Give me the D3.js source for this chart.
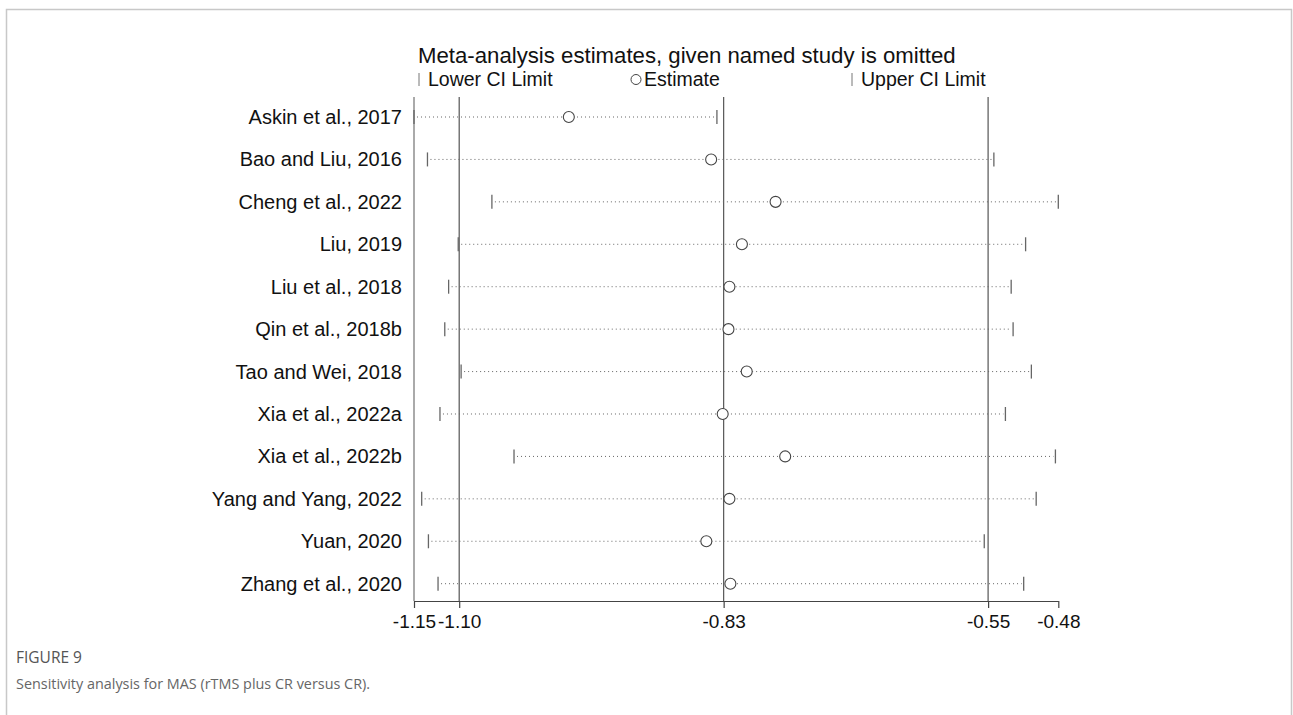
<!DOCTYPE html>
<html>
<head>
<meta charset="utf-8">
<script src="https://cdn.jsdelivr.net/npm/d3@7"></script>
<style>
  body { margin: 0; background: #fff; }
  svg { display: block; font-family: "Liberation Sans", Arial, sans-serif; }
</style>
</head>
<body>
<div id="chart"></div>
<script>
// studies omitted one at a time, top to bottom
const studies = [
  'Askin et al., 2017', 'Bao and Liu, 2016', 'Cheng et al., 2022', 'Liu, 2019',
  'Liu et al., 2018', 'Qin et al., 2018b', 'Tao and Wei, 2018', 'Xia et al., 2022a',
  'Xia et al., 2022b', 'Yang and Yang, 2022', 'Yuan, 2020', 'Zhang et al., 2020'
];
const lowerCI  = [-1.150, -1.136, -1.069, -1.104, -1.114, -1.118, -1.101, -1.123, -1.046, -1.142, -1.135, -1.125];
const estimate = [-0.989, -0.841, -0.774, -0.809, -0.822, -0.823, -0.804, -0.829, -0.764, -0.822, -0.846, -0.821];
const upperCI  = [-0.835, -0.547, -0.480, -0.514, -0.529, -0.527, -0.508, -0.535, -0.483, -0.503, -0.557, -0.516];

// pooled estimate and CI (reference lines) plus axis ends
const tickValues = [-1.150, -1.103, -0.828, -0.553, -0.480];
const tickLabels = ['-1.15', '-1.10', '-0.83', '-0.55', '-0.48'];
const refLines = [-1.103, -0.828, -0.553];

const width = 1293, height = 715;
const svg = d3.select('#chart').append('svg')
  .attr('width', width).attr('height', height);

// panel frame
svg.append('path')
  .attr('d', `M6.5,${height} V9.5 H1291.5 V${height}`)
  .attr('fill', 'none').attr('stroke', '#c8c8c8').attr('stroke-width', 1.5);

const x = d3.scaleLinear().domain([-1.15, -0.48]).range([414, 1058.3]);
const y = d3.scalePoint().domain(studies).range([117, 583.7]);
const plotTop = 97, axisY = 601;

// title + legend
svg.append('text').attr('x', 418).attr('y', 63)
  .attr('font-size', 22.2).attr('fill', '#111')
  .text('Meta-analysis estimates, given named study is omitted');

const legend = svg.append('g').attr('font-size', 19.5).attr('fill', '#111');
legend.append('line').attr('x1', 419).attr('x2', 419).attr('y1', 73).attr('y2', 86)
  .attr('stroke', '#777').attr('stroke-width', 1);
legend.append('text').attr('x', 428).attr('y', 86).text('Lower CI Limit');
legend.append('circle').attr('cx', 636).attr('cy', 79.5).attr('r', 5)
  .attr('fill', 'none').attr('stroke', '#444');
legend.append('text').attr('x', 644).attr('y', 86).text('Estimate');
legend.append('line').attr('x1', 852).attr('x2', 852).attr('y1', 73).attr('y2', 86)
  .attr('stroke', '#777').attr('stroke-width', 1);
legend.append('text').attr('x', 861).attr('y', 86).text('Upper CI Limit');

// reference lines
svg.append('g').selectAll('line').data(refLines).join('line')
  .attr('x1', d => x(d)).attr('x2', d => x(d))
  .attr('y1', plotTop).attr('y2', axisY)
  .attr('stroke', '#555').attr('stroke-width', 1.2);

// left axis line
svg.append('line').attr('x1', x(-1.15)).attr('x2', x(-1.15))
  .attr('y1', plotTop).attr('y2', axisY)
  .attr('stroke', '#aaa').attr('stroke-width', 2);

// study labels
svg.append('g').selectAll('text').data(studies).join('text')
  .attr('x', 402).attr('y', d => y(d) + 7)
  .attr('text-anchor', 'end').attr('font-size', 20).attr('fill', '#111')
  .text(d => d);

const rows = studies.map((s, i) => ({ s, lo: lowerCI[i], est: estimate[i], hi: upperCI[i] }));
const g = svg.append('g');

g.selectAll('line.ci').data(rows).join('line').attr('class', 'ci')
  .attr('x1', d => x(d.lo) + 3).attr('x2', d => x(d.hi) - 2)
  .attr('y1', d => y(d.s)).attr('y2', d => y(d.s))
  .attr('stroke', '#666').attr('stroke-width', 1).attr('stroke-dasharray', '1,3');

g.selectAll('line.lo').data(rows).join('line').attr('class', 'lo')
  .attr('x1', d => x(d.lo)).attr('x2', d => x(d.lo))
  .attr('y1', d => y(d.s) - 7).attr('y2', d => y(d.s) + 7)
  .attr('stroke', '#666').attr('stroke-width', 1.3);

g.selectAll('line.hi').data(rows).join('line').attr('class', 'hi')
  .attr('x1', d => x(d.hi)).attr('x2', d => x(d.hi))
  .attr('y1', d => y(d.s) - 7).attr('y2', d => y(d.s) + 7)
  .attr('stroke', '#666').attr('stroke-width', 1.3);

g.selectAll('circle').data(rows).join('circle')
  .attr('cx', d => x(d.est)).attr('cy', d => y(d.s)).attr('r', 5.5)
  .attr('fill', '#fff').attr('stroke', '#444').attr('stroke-width', 1.1);

// bottom axis
const xAxis = d3.axisBottom(x)
  .tickValues(tickValues)
  .tickFormat((d, i) => tickLabels[i])
  .tickSize(7).tickSizeOuter(0);
const ax = svg.append('g').attr('transform', `translate(0,${axisY})`).call(xAxis);
ax.select('.domain').attr('stroke', '#444').attr('stroke-width', 1.2);
ax.selectAll('.tick line').attr('stroke', '#444').attr('stroke-width', 1.2);
ax.selectAll('.tick text')
  .attr('font-family', '"Liberation Sans", Arial, sans-serif')
  .attr('font-size', 19).attr('fill', '#111').attr('y', 14);

// caption
svg.append('text').attr('x', 16).attr('y', 663)
  .attr('font-family', '"Open Sans", sans-serif').attr('font-size', 15.5)
  .attr('font-weight', 500).attr('fill', '#555').text('FIGURE 9');
svg.append('text').attr('x', 16).attr('y', 689)
  .attr('font-family', '"Open Sans", sans-serif').attr('font-size', 14.4)
  .attr('fill', '#666').text('Sensitivity analysis for MAS (rTMS plus CR versus CR).');
</script>
</body>
</html>
